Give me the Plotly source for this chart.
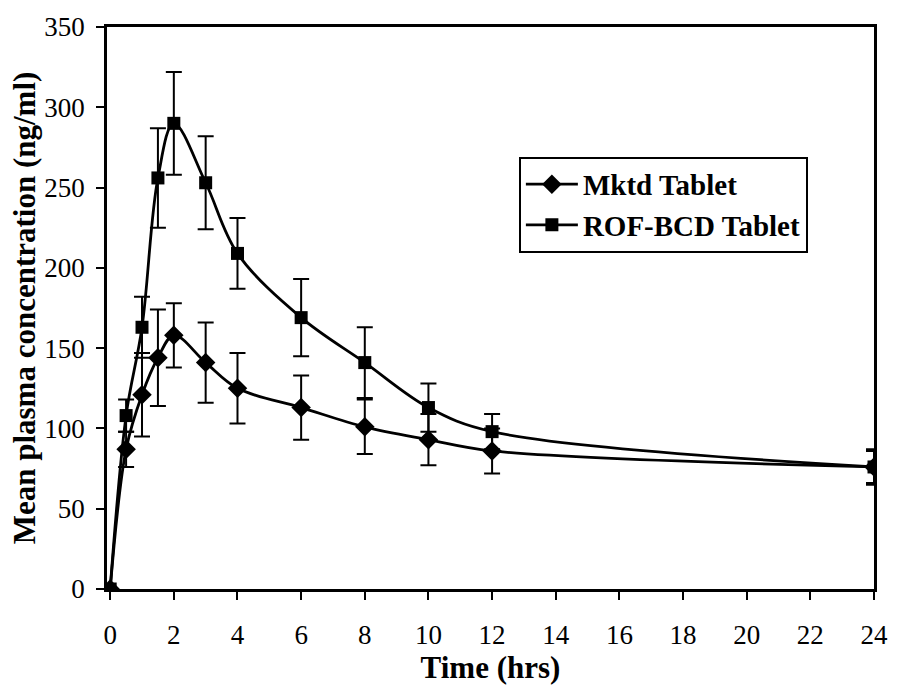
import plotly.graph_objects as go

time_hrs = [0, 0.5, 1, 1.5, 2, 3, 4, 6, 8, 10, 12, 24]
mktd_mean = [0, 87, 121, 144, 158, 141, 125, 113, 101, 93, 86, 76]
mktd_sd = [0, 11, 26, 30, 20, 25, 22, 20, 17, 16, 14, 10]
rof_mean = [0, 108, 163, 256, 290, 253, 209, 169, 141, 113, 98, 76]
rof_sd = [0, 10, 19, 31, 32, 29, 22, 24, 22, 15, 11, 11]

x_ticks = list(range(0, 25, 2))
y_ticks = list(range(0, 351, 50))

fig = go.Figure()
fig.add_trace(go.Scatter(
    x=time_hrs, y=mktd_mean, name="Mktd Tablet", mode="lines+markers",
    line=dict(color="black", width=2.8, shape="spline", smoothing=1.0),
    marker=dict(symbol="diamond", size=15, color="black"),
    error_y=dict(type="data", array=mktd_sd, visible=True, color="black", thickness=2, width=8),
))
fig.add_trace(go.Scatter(
    x=time_hrs, y=rof_mean, name="ROF-BCD Tablet", mode="lines+markers",
    line=dict(color="black", width=2.8, shape="spline", smoothing=1.0),
    marker=dict(symbol="square", size=13, color="black"),
    error_y=dict(type="data", array=rof_sd, visible=True, color="black", thickness=2, width=8),
))

font_family = "Liberation Serif"
fig.update_layout(
    width=900, height=691,
    margin=dict(l=107, r=20, t=21, b=102),
    paper_bgcolor="white", plot_bgcolor="white",
    font=dict(family=font_family, color="black", size=26),
    legend=dict(
        x=0.537, y=0.769, xanchor="left", yanchor="top",
        bordercolor="black", borderwidth=2, bgcolor="white",
        font=dict(family=font_family, size=29, color="black", weight="bold"),
        itemwidth=52, tracegroupgap=0,
    ),
    showlegend=True,
)
fig.update_xaxes(
    range=[-0.1, 24], tickvals=x_ticks, ticktext=[str(v) for v in x_ticks],
    showline=True, linecolor="black", linewidth=2.5, mirror=True,
    ticks="outside", ticklen=8, tickwidth=1.5, tickcolor="black",
    ticklabelstandoff=12,
    showgrid=False, zeroline=False,
    tickfont=dict(family=font_family, size=27),
    title=dict(text="<b>Time (hrs)</b>", font=dict(family=font_family, size=31), standoff=6),
)
fig.update_yaxes(
    range=[0, 350], tickvals=y_ticks, ticktext=[str(v) for v in y_ticks],
    showline=True, linecolor="black", linewidth=2.5, mirror=True,
    ticks="outside", ticklen=8, tickwidth=1.5, tickcolor="black",
    ticklabelstandoff=6,
    showgrid=False, zeroline=False,
    tickfont=dict(family=font_family, size=27),
    title=dict(text="<b>Mean plasma concentration (ng/ml)</b>", font=dict(family=font_family, size=31), standoff=0),
)

fig.write_html("out.html")
